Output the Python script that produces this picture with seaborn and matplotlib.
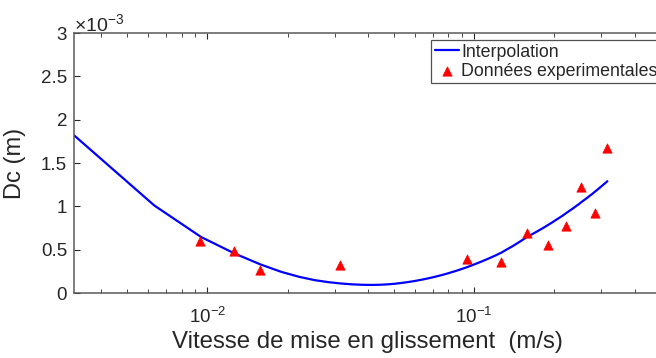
import numpy as np
import pandas as pd
import matplotlib
matplotlib.use("Agg")
import matplotlib.pyplot as plt
import matplotlib.ticker as mticker
import seaborn as sns

# Interpolation curve, Dc in units of 1e-3 m
v_interp = [0.00316, 0.00632, 0.00948, 0.01264, 0.0158, 0.01896, 0.02212, 0.02528,
            0.02844, 0.0316, 0.03476, 0.03792, 0.04108, 0.04424, 0.0474, 0.05056,
            0.05372, 0.05688, 0.06004, 0.0632, 0.06636, 0.06952, 0.07268, 0.07584,
            0.079, 0.08216, 0.08532, 0.08848, 0.09164, 0.0948, 0.10112, 0.10744,
            0.11376, 0.12008, 0.1264, 0.13272, 0.13904, 0.14536, 0.15168, 0.158,
            0.16432, 0.17064, 0.17696, 0.18328, 0.1896, 0.19592, 0.20224, 0.20856,
            0.21488, 0.2212, 0.22752, 0.23384, 0.24016, 0.24648, 0.2528, 0.25912,
            0.26544, 0.27176, 0.27808, 0.2844, 0.29072, 0.29704, 0.30336, 0.30968,
            0.316]
dc_interp = [1.82, 1.01, 0.645, 0.456, 0.330, 0.243, 0.186, 0.148,
             0.125, 0.110, 0.100, 0.095, 0.093, 0.095, 0.100, 0.107,
             0.117, 0.1275, 0.139, 0.152, 0.165, 0.179, 0.193, 0.208,
             0.223, 0.239, 0.254, 0.270, 0.286, 0.302, 0.335, 0.367,
             0.400, 0.432, 0.465, 0.503, 0.538, 0.575, 0.611, 0.648,
             0.675, 0.703, 0.731, 0.758, 0.786, 0.813, 0.841, 0.867,
             0.893, 0.921, 0.947, 0.972, 0.998, 1.023, 1.050, 1.074,
             1.098, 1.123, 1.146, 1.171, 1.195, 1.219, 1.243, 1.266,
             1.290]

v_exp = [0.00936, 0.01255, 0.0157, 0.0313, 0.0941, 0.1262, 0.158, 0.189,
         0.221, 0.252, 0.284, 0.3157]
dc_exp = [0.60, 0.485, 0.265, 0.323, 0.392, 0.358, 0.696, 0.55,
          0.776, 1.226, 0.926, 1.67]

label_interp = "Interpolation"
label_exp = "Données experimentales"
xlabel = "Vitesse de mise en glissement  (m/s)"
ylabel = "Dc (m)"

df_i = pd.DataFrame({"v": v_interp, "dc": np.array(dc_interp) * 1e-3})
df_e = pd.DataFrame({"v": v_exp, "dc": np.array(dc_exp) * 1e-3})

sns.set_style("white")
plt.rcParams["font.family"] = ["Liberation Sans", "DejaVu Sans"]
plt.rcParams["mathtext.fontset"] = "custom"
plt.rcParams["mathtext.rm"] = "Liberation Sans"
plt.rcParams["mathtext.it"] = "Liberation Sans:italic"

W, H = 656, 358
fig = plt.figure(figsize=(W / 100, H / 100), dpi=100)
ax = fig.add_axes([74 / W, 1 - 293 / H, (660.5 - 74) / W, (293 - 33) / H])

sns.lineplot(data=df_i, x="v", y="dc", ax=ax, color="#0000ff", lw=1.6,
             label=label_interp, sort=False)
sns.scatterplot(data=df_e, x="v", y="dc", ax=ax, marker="^", s=45,
                color="#ff0000", edgecolor="#ff0000", linewidth=0.5,
                label=label_exp, zorder=3)

ax.set_xscale("log")
ax.set_xlim(0.00316, 0.5)
ax.set_ylim(0, 3e-3)
ax.set_yticks(np.arange(0, 3.01e-3, 0.5e-3))
ax.yaxis.set_major_formatter(mticker.FuncFormatter(lambda v, p: f"{v*1e3:g}"))
ax.xaxis.set_major_locator(mticker.LogLocator(base=10, numticks=10))
ax.xaxis.set_minor_locator(mticker.LogLocator(base=10, subs=np.arange(2, 10), numticks=20))
ax.xaxis.set_minor_formatter(mticker.NullFormatter())

axc = "#5a5a5a"
for s in ["left", "bottom", "top"]:
    ax.spines[s].set_visible(True)
    ax.spines[s].set_color(axc)
    ax.spines[s].set_linewidth(1.1)
ax.spines["right"].set_visible(False)

ax.tick_params(axis="both", which="both", direction="in", top=True, right=False,
               bottom=True, left=True,
               color="#262626", labelcolor="#262626", labelsize=13.5)
ax.tick_params(axis="both", which="major", length=4.5, width=0.8)
ax.tick_params(axis="y", which="major", pad=5)
ax.tick_params(axis="x", which="major", pad=10)
ax.tick_params(axis="x", which="minor", length=2.8, width=0.6)

ax.set_xlabel(xlabel, fontsize=17.3, color="#262626", labelpad=3)
ax.set_ylabel(ylabel, fontsize=17, color="#262626")
ax.yaxis.set_label_coords(-0.082, 0.5)

ax.text(0.0, 1.006, r"$\times$10$^{-3}$", transform=ax.transAxes, fontsize=14,
        color="#262626", ha="left", va="baseline")

leg = ax.legend(loc="upper left", bbox_to_anchor=(431 / W, 1 - 40 / H),
                bbox_transform=fig.transFigure, frameon=True, fancybox=False,
                fontsize=12.8, handlelength=1.35, handletextpad=0.15,
                borderpad=0.2, labelspacing=0.12, borderaxespad=0)
leg.get_frame().set_edgecolor("#262626")
leg.get_frame().set_linewidth(0.9)

fig.savefig("out.png", dpi=100)
